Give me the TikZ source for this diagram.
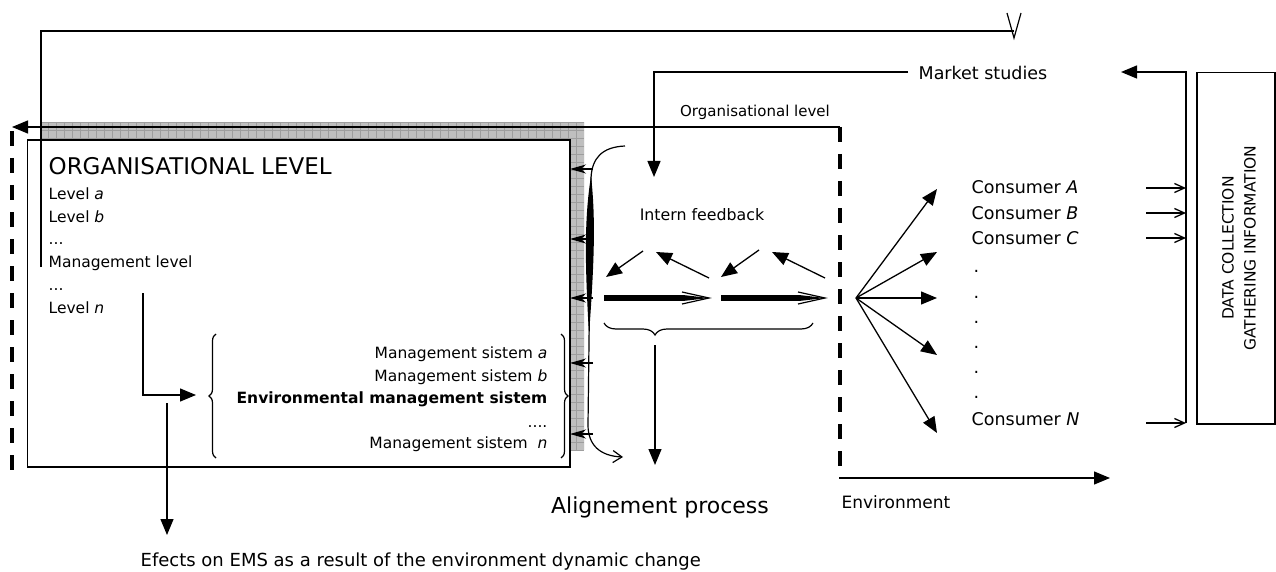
\documentclass[tikz,border=0pt]{standalone}
\usepackage{fontspec}
\setmainfont{DejaVu Sans}
\usetikzlibrary{arrows.meta,decorations.pathreplacing,calc}
\begin{document}
\begin{tikzpicture}[x=1pt,y=-1pt,line width=1.3pt,
  tri/.style={-{Triangle[length=16pt,width=13pt]}},
  barb/.style={-{Straight Barb[length=10pt,width=9pt]}},
  thickdash/.style={line width=4.2pt,dash pattern=on 15pt off 12pt},
  tx/.style={inner sep=0pt,font=\fontsize{15.5}{18}\selectfont},
  txb/.style={inner sep=0pt,font=\fontsize{17.5}{20}\selectfont},
  smallarr/.style={-{Stealth[length=16pt,width=9pt,inset=5pt]}},
  brc/.style={decorate,line width=1.2pt}]
\useasboundingbox (0,0) rectangle (1276,572);

% shadow
\fill[black!25] (40,122) rectangle (584,450);
\begin{scope}
\clip (40,122) rectangle (584,450);
\foreach \i in {0,...,68} \draw[black!38,line width=0.5pt] (40+8*\i,122) -- (40+8*\i,450);
\foreach \j in {0,...,41} \draw[black!38,line width=0.5pt] (40,122+8*\j) -- (584,122+8*\j);
\end{scope}

% organisation box
\node[draw,fill=white,line width=1.8pt,inner sep=0pt,minimum width=542.5pt,minimum height=327pt,anchor=north west] (orgbox) at (26.5,139) {};

% top loop line
\coordinate (tlS) at (41,267);
\coordinate (tlA) at (41,31);
\coordinate (tlB) at (1014,31);
\coordinate (vL) at (1007,13);
\coordinate (vT) at (1014,38);
\coordinate (vR) at (1021,13);
\draw (tlS) -- (tlA) -- (tlB);
\draw[line width=1.2pt] (vL) -- (vT) -- (vR);

% organisational level line and dashed borders
\coordinate (olR) at (840,127);
\coordinate (olL) at (12,127);
\coordinate (ldT) at (12,131);
\coordinate (ldB) at (12,472);
\coordinate (rdB) at (840,472);
\draw[tri] (olR) -- (olL);
\draw[thickdash] (ldT) -- (ldB);
\draw[thickdash] (olR) -- (rdB);
\node[inner sep=0pt,font=\fontsize{15}{18}\selectfont] (ollab) at (755,112) {Organisational level};

% box texts
\node[inner sep=0pt,anchor=base west,font=\fontsize{23}{26}\selectfont] (orgtitle) at (48,175) {ORGANISATIONAL LEVEL};
\node[tx,anchor=base west] (la) at (48,199.5) {Level \textit{a}};
\node[tx,anchor=base west] (lb) at (48,222.5) {Level \textit{b}};
\node[tx,anchor=base west] (ld1) at (48,244) {...};
\node[tx,anchor=base west] (lm) at (48,267) {Management level};
\node[tx,anchor=base west] (ld2) at (48,290) {...};
\node[tx,anchor=base west] (ln) at (48,313.5) {Level \textit{n}};

\node[tx,anchor=base east] (msa) at (548,358.5) {Management sistem \textit{a}};
\node[tx,anchor=base east] (msb) at (548,381.5) {Management sistem \textit{b}};
\node[tx,anchor=base east,font=\fontsize{15.5}{18}\selectfont\bfseries] (ems) at (548,403.5) {Environmental management sistem};
\node[tx,anchor=base east] (msd) at (548,427) {....};
\node[tx,anchor=base east] (msn) at (548,448.5) {Management sistem~~\textit{n}};

\draw[brc,decoration={brace,amplitude=7pt}] (216,458) -- (216,334);
\draw[brc,decoration={brace,amplitude=7pt}] (561,334) -- (561,458);

% management level arrow
\coordinate (mlS) at (143,293);
\coordinate (mlC) at (143,395);
\coordinate (mlE) at (196,395);
\draw[tri] (mlS) -- (mlC) -- (mlE);

% effects arrow
\coordinate (efS) at (167,403);
\node[inner sep=0pt,anchor=base west,font=\fontsize{18}{21}\selectfont] (efl) at (140,566) {Efects on EMS as a result of the environment dynamic change};
\draw[tri] (efS) -- (167,535) coordinate (efE);

% feedback curve
\coordinate (cT) at (625,146);
\coordinate (cE) at (623,457);
\draw[line width=1.2pt,-{Straight Barb[length=9pt,width=12pt]}] (cT) .. controls (602,147) and (592,158) .. (591,178) -- (588,425) .. controls (588,445) and (600,456) .. (cE);
\fill (591,176) .. controls (596,220) and (594,265) .. (589,335) .. controls (585,265) and (584,220) .. (591,176);
\foreach \y in {169,239,298,363,434} {
  \coordinate (sa\y) at (593,\y);
  \coordinate (sb\y) at (570,\y);
  \draw[smallarr,line width=1.1pt] (sa\y) -- (sb\y);
}

% market studies
\node[inner sep=0pt,anchor=west,font=\fontsize{17.5}{20}\selectfont] (ms) at (918,73) {Market studies};
\coordinate (msC) at (654,72);
\coordinate (msD) at (654,177);
\draw[tri] ([xshift=-10pt]ms.west |- msC) -- (msC) -- (msD);

% intern feedback
\node[inner sep=0pt,font=\fontsize{15.8}{18}\selectfont] (ifb) at (702,215) {Intern feedback};
\coordinate (f1a) at (643,251); \coordinate (f1b) at (606,277);
\coordinate (f2a) at (709,278); \coordinate (f2b) at (656,252);
\coordinate (f3a) at (759,250); \coordinate (f3b) at (721,277);
\coordinate (f4a) at (825,278); \coordinate (f4b) at (772,252);
\draw[tri] (f1a) -- (f1b);
\draw[tri] (f2a) -- (f2b);
\draw[tri] (f3a) -- (f3b);
\draw[tri] (f4a) -- (f4b);
\coordinate (h1a) at (604,298); \coordinate (h1b) at (709,298);
\coordinate (h2a) at (721,298); \coordinate (h2b) at (825,298);
\foreach \s/\e in {h1a/h1b,h2a/h2b} {
  \draw[line width=6pt] (\s) -- ($(\e)+(-25,0)$);
  \fill ($(\e)+(-26,-3)$) -- (\e) -- ($(\e)+(-26,3)$) -- cycle;
  \draw[line width=1.2pt] ($(\e)+(-27,-6)$) -- (\e) -- ($(\e)+(-27,6)$);
}
\draw[brc,decoration={brace,mirror,amplitude=12pt,aspect=0.244}] (604,323) -- (813,323);
\coordinate (alS) at (655,345);
\coordinate (alE) at (655,465);
\draw[tri] (alS) -- (alE);
\node[inner sep=0pt,font=\fontsize{22}{26}\selectfont] (align) at (660,507) {Alignement process};

% environment
\coordinate (enS) at (839,478);
\coordinate (enE) at (1110,478);
\draw[tri] (enS) -- (enE);
\node[inner sep=0pt,anchor=base west,font=\fontsize{17}{20}\selectfont] (env) at (841,508) {Environment};

% consumers fan
\coordinate (fan) at (856,298);
\foreach \y in {189,252,298,355,433} {
  \coordinate (ft\y) at (937,\y);
  \draw[tri] (fan) -- (ft\y);
}
\node[txb,anchor=base west] (cA) at (971,193.5) {Consumer \textit{A}};
\node[txb,anchor=base west] (cB) at (971,219.5) {Consumer \textit{B}};
\node[txb,anchor=base west] (cC) at (971,244.5) {Consumer \textit{C}};
\foreach \y in {272,298,323,348,373,398} \node[txb,anchor=base west] at (973,\y) {.};
\node[txb,anchor=base west] (cN) at (971,425.5) {Consumer \textit{N}};

% data collection
\node[draw,line width=1.5pt,inner sep=0pt,minimum width=78pt,minimum height=351pt,anchor=north west] (databox) at (1196,72) {};
\node[inner sep=0pt,rotate=90,align=center,font=\fontsize{15.5}{22}\selectfont] (dtxt) at (1239,248) {DATA COLLECTION\\GATHERING INFORMATION};
\coordinate (dvB) at (1186,423);
\coordinate (dvT) at (1186,72);
\coordinate (dvL) at (1121,72);
\draw[tri] (dvB) -- (dvT) -- (dvL);
\foreach \y in {188,213,238,423} {
  \coordinate (ca\y) at (1146,\y);
  \coordinate (cb\y) at (1186,\y);
  \draw[barb] (ca\y) -- (cb\y);
}
\end{tikzpicture}
\end{document}
